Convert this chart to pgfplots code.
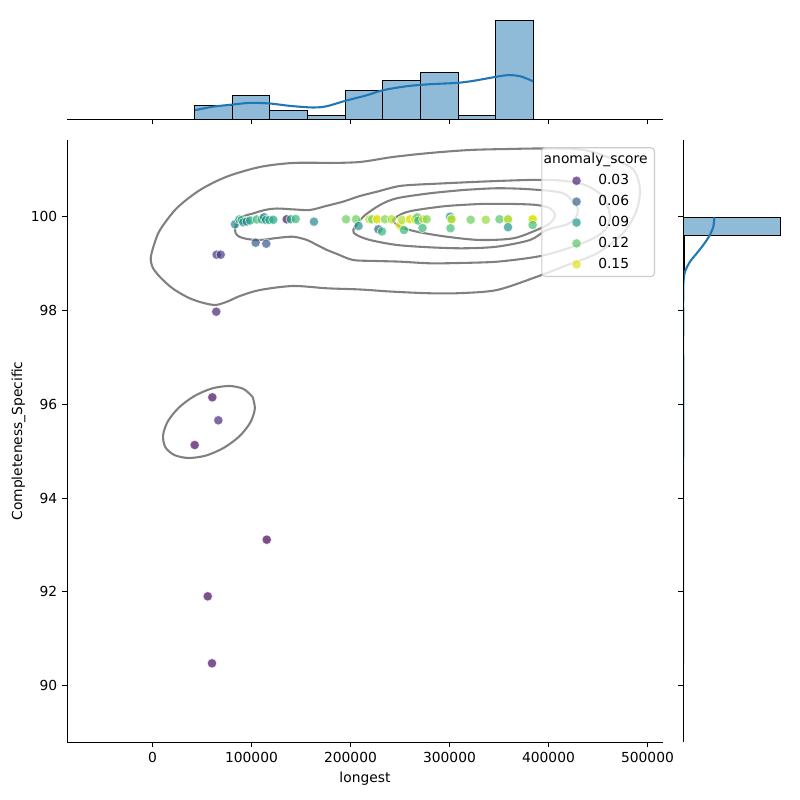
\documentclass[border=0pt]{standalone}
\usepackage{fontspec}
\setmainfont{DejaVu Sans}
\usepackage{pgfplots}
\usepackage{pgfplotstable}
\pgfplotsset{compat=1.18}

\definecolor{kdeblue}{HTML}{1F77B4}
\definecolor{contourgray}{HTML}{808080}
\definecolor{legframe}{HTML}{CCCCCC}
\definecolor{vA}{HTML}{482475}
\definecolor{vB}{HTML}{34628D}
\definecolor{vC}{HTML}{21978A}
\definecolor{vD}{HTML}{58C665}
\definecolor{vE}{HTML}{DDE318}

% longest, Completeness_Specific, anomaly_score
\pgfplotstableread{
longest completeness score
60400  96.149 0.020
66500  95.659 0.032
42626  95.132 0.020
115400 93.113 0.016
55800  91.906 0.018
60100  90.478 0.020
64400  97.974 0.030
64800  99.190 0.035
68900  99.190 0.040
104200 99.446 0.055
114900 99.424 0.055
83300  99.838 0.080
87700  99.941 0.100
90100  99.930 0.110
91700  99.881 0.085
95200  99.898 0.075
98500  99.919 0.100
105300 99.941 0.110
110300 99.941 0.105
112600 99.987 0.075
114600 99.930 0.090
118000 99.930 0.105
122000 99.934 0.100
135600 99.945 0.022
139600 99.945 0.100
144600 99.951 0.110
163100 99.893 0.080
195500 99.945 0.125
205600 99.945 0.125
208100 99.802 0.085
219200 99.945 0.140
221700 99.945 0.130
226800 99.945 0.150
226800 99.945 0.150
228100 99.732 0.060
231800 99.685 0.110
234800 99.945 0.130
241600 99.945 0.140
250000 99.808 0.150
252000 99.930 0.140
254000 99.716 0.110
260100 99.945 0.150
260100 99.945 0.150
265200 99.945 0.150
267500 99.987 0.120
268500 99.915 0.110
273500 99.945 0.145
277000 99.945 0.130
272700 99.759 0.110
300500 99.999 0.090
302000 99.945 0.140
302000 99.945 0.140
301000 99.753 0.115
321400 99.934 0.125
336600 99.934 0.135
350500 99.945 0.120
359100 99.945 0.140
359100 99.945 0.140
359100 99.776 0.090
384000 99.945 0.150
384000 99.945 0.150
384000 99.945 0.150
384000 99.823 0.115
}\scatterdata

\pgfplotsset{
  hue legend/.style={
    legend image code/.code={
      \path (-0.78cm,0cm) (0.45cm,0cm);
      \draw[##1] plot coordinates {(0cm,0cm)};
    },
    only marks, mark=*, mark size=3.4pt,
    mark options={draw=white, fill=#1, fill opacity=0.7, draw opacity=0.7, line width=0.5pt},
  },
  joint ticks/.style={
    scale only axis,
    enlargelimits=false,
    scaled ticks=false,
    tick align=outside,
    major tick length=3.5pt,
    every tick/.style={black, line width=0.7pt},
    axis line style={line width=0.7pt},
    tick label style={font=\fontsize{10}{12}\selectfont},
    label style={font=\fontsize{10}{12}\selectfont},
    /pgf/number format/assume math mode=true,
  },
  hist bars/.style={fill=kdeblue, fill opacity=0.5, draw=black, draw opacity=1, line width=0.7pt},
}

\begin{document}
\begin{tikzpicture}
\path[use as bounding box] (0,0) rectangle (8in,8in);

% joint panel: scatter and density contours
\begin{axis}[
  joint ticks,
  at={(0.67in,0.58in)}, anchor=south west,
  width=5.96in, height=6.02in,
  xmin=-86364, xmax=515660, ymin=88.800, ymax=101.635,
  axis lines*=left,
  xtick={0,100000,200000,300000,400000,500000},
  xticklabels={0,100000,200000,300000,400000,500000},
  ytick={90,92,94,96,98,100},
  yticklabels={90,92,94,96,98,100},
  xlabel={longest}, ylabel={Completeness\_Specific},
  ylabel style={yshift=-3pt},
  colormap/viridis,
  point meta min=0.016, point meta max=0.157,
  legend cell align=left,
  legend style={
    at={(0.9866,0.988)}, anchor=north east,
    draw=legframe, line width=0.8pt, rounded corners=2.5pt,
    fill=white, fill opacity=0.8, text opacity=1,
    font=\fontsize{10}{12}\selectfont,
    inner xsep=2.5pt, inner ysep=1.2pt, row sep=0pt,
    nodes={inner xsep=2.5pt, inner ysep=2.25pt, text height=8pt, text depth=2.6pt},
  },
]
\addplot[scatter, only marks, mark=*, mark size=3.4pt, scatter src=explicit,
  scatter/use mapped color={draw=white, fill=mapped color},
  mark options={fill opacity=0.7, draw opacity=0.7, line width=0.5pt},
  forget plot]
  table[x=longest, y=completeness, meta=score] {\scatterdata};

\addplot[contourgray, line width=1.5pt, smooth, tension=0.5, forget plot] coordinates {
(179300,101.145) (209600,101.166) (242900,101.273) (280300,101.358) (320700,101.422)
(361100,101.444) (391400,101.454) (426800,101.444) (449000,101.352) (482300,101.066)
(490400,100.800) (492400,100.500) (488400,100.100) (475300,99.652) (449000,99.220)
(414600,98.934) (388400,98.721) (348000,98.437) (310600,98.370) (280300,98.367)
(242900,98.401) (209600,98.448) (176300,98.473) (141900,98.522) (108600,98.437)
(88400,98.309) (75300,98.188) (63100,98.117) (48000,98.181) (34800,98.288)
(19700,98.480) (7600,98.714) (500,98.906) (-1800,99.113) (1500,99.397)
(7600,99.717) (24400,100.179) (48000,100.569) (75000,100.853) (108600,101.060)
(141900,101.145) (179300,101.145)};
\addplot[contourgray, line width=1.5pt, smooth, tension=0.5, forget plot] coordinates {
(280300,100.697) (330800,100.746) (381300,100.783) (411600,100.772) (436900,100.676)
(455100,100.426) (462100,100.015) (457100,99.716) (441900,99.503) (414600,99.290)
(388400,99.147) (348500,99.041) (310600,99.013) (280300,99.006) (250000,99.041)
(224700,99.056) (202500,99.077) (186400,99.205) (176300,99.290) (164100,99.418)
(156100,99.503) (141900,99.573) (125800,99.546) (108600,99.503) (95500,99.525)
(86400,99.588) (83300,99.716) (88400,99.972) (101500,100.068) (113600,100.143)
(125800,100.174) (143900,100.153) (159100,100.143) (175300,100.228) (192400,100.320)
(209600,100.441) (226800,100.533) (250000,100.655) (280300,100.697)};
\addplot[contourgray, line width=1.5pt, smooth, tension=0.5, forget plot] coordinates {
(313900,100.569) (347700,100.606) (381300,100.584) (414600,100.499) (428500,100.213)
(428800,100.036) (419700,99.845) (398200,99.716) (381300,99.503) (347700,99.360)
(313900,99.326) (280300,99.347) (246700,99.397) (219700,99.503) (206300,99.609)
(202800,99.716) (212900,99.999) (229800,100.249) (246700,100.392) (280300,100.499)
(313900,100.569)};
\addplot[contourgray, line width=1.5pt, smooth, tension=0.5, forget plot] coordinates {
(330800,100.271) (364400,100.271) (388100,100.249) (401500,100.179) (406600,100.036)
(401500,99.859) (388100,99.716) (364400,99.539) (330800,99.503) (297200,99.573)
(266900,99.680) (250000,99.787) (243200,99.930) (253300,100.072) (266900,100.143)
(297200,100.228) (330800,100.271)};
\addplot[contourgray, line width=1.5pt, smooth, tension=0.5, forget plot] coordinates {
(101100,96.158) (103400,95.908) (98800,95.612) (87900,95.320) (72100,95.073)
(54100,94.908) (36600,94.855) (22200,94.917) (13000,95.085) (10700,95.337)
(15400,95.633) (26400,95.925) (42000,96.173) (60000,96.337) (77600,96.390)
(91900,96.328) (101100,96.158)};

\addlegendimage{empty legend}
\addlegendentry{\hspace*{-39.4pt}anomaly\_score}
\addlegendimage{hue legend=vA}
\addlegendentry{0.03}
\addlegendimage{hue legend=vB}
\addlegendentry{0.06}
\addlegendimage{hue legend=vC}
\addlegendentry{0.09}
\addlegendimage{hue legend=vD}
\addlegendentry{0.12}
\addlegendimage{hue legend=vE}
\addlegendentry{0.15}
\end{axis}

% marginal distribution of longest
\begin{axis}[
  joint ticks,
  axis on top,
  at={(0.67in,6.808in)}, anchor=south west,
  width=5.96in, height=1.038in,
  xmin=-86364, xmax=515660, ymin=0, ymax=61.95,
  axis x line*=bottom, axis y line=none,
  xtick={0,100000,200000,300000,400000,500000},
  xticklabels={}, ytick=\empty,
]
\addplot[ybar interval, hist bars]
  coordinates {(42600,8) (80600,14) (118600,5) (156600,2) (194600,17) (232600,23)
  (270600,28) (308600,2) (346600,59) (384600,59)};
\addplot[kdeblue, line width=1.5pt, smooth, tension=0.5] coordinates {
(42929,5.37) (61111,7.46) (81313,8.77) (98485,9.73) (118687,9.37) (138889,7.94)
(162121,6.98) (176263,7.76) (194444,10.92) (216667,14.32) (232828,17.30)
(257071,19.69) (280303,20.88) (307576,21.66) (323737,22.85) (340909,24.64)
(358081,26.25) (371212,25.66) (384343,22.67)};
\end{axis}

% marginal distribution of Completeness_Specific (non-empty bins)
\begin{axis}[
  joint ticks,
  axis on top,
  at={(6.83in,0.58in)}, anchor=south west,
  width=1.028in, height=6.02in,
  xmin=0, xmax=154.35, ymin=88.800, ymax=101.635,
  axis y line*=left, axis x line=none,
  ytick={90,92,94,96,98,100},
  yticklabels={}, xtick=\empty,
]
\addplot[xbar interval, hist bars] coordinates {(1,90.478) (1,90.874)};
\addplot[xbar interval, hist bars] coordinates {(1,91.667) (1,92.063)};
\addplot[xbar interval, hist bars] coordinates {(1,92.855) (1,93.251)};
\addplot[xbar interval, hist bars] coordinates {(1,94.836) (1,95.232)};
\addplot[xbar interval, hist bars] coordinates {(1,95.629) (1,96.025) (1,96.421)};
\addplot[xbar interval, hist bars] coordinates {(1,97.610) (1,98.006)};
\addplot[xbar interval, hist bars] coordinates {(2,98.798) (2,99.194) (147,99.591) (147,99.987)};
\addplot[kdeblue, line width=1.5pt, smooth, tension=0.5] coordinates {
(47.0,99.987) (45.5,99.787) (39.5,99.589) (30.5,99.397) (20.6,99.218) (10.5,99.040)
(3.0,98.826) (0.6,98.580) (0.3,98.154) (0.35,97.9) (0.3,97.3) (0.35,96.2)
(0.4,95.6) (0.3,94.8) (0.25,93.5) (0.3,93.1) (0.2,92.3) (0.25,91.9) (0.2,91.2)
(0.25,90.478)};
\end{axis}
\end{tikzpicture}
\end{document}
